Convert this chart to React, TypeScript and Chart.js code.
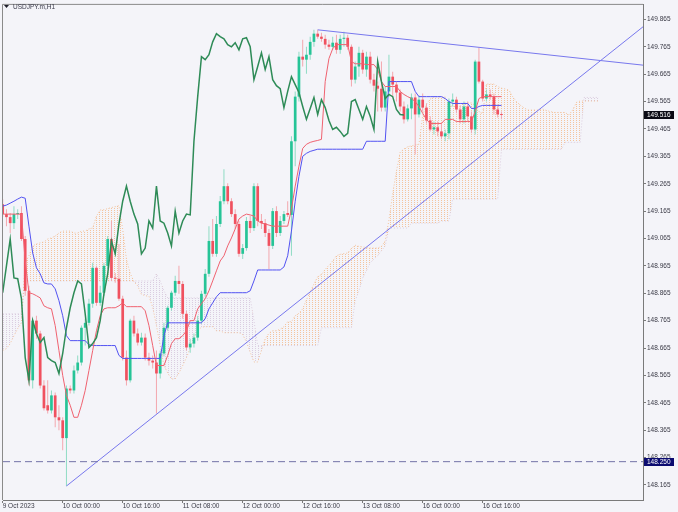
import React, { useEffect, useRef } from "react";
import { Chart, registerables } from "chart.js";

Chart.register(...registerables);

const SYMBOL = "USDJPY.m,H1";
const X_TICKS = [0, 16, 32, 48, 64, 80, 96, 112, 128];
const X_TICK_LABELS = ["9 Oct 2023", "10 Oct 00:00", "10 Oct 16:00", "11 Oct 08:00", "12 Oct 00:00", "12 Oct 16:00", "13 Oct 08:00", "16 Oct 00:00", "16 Oct 16:00"];
const Y_TICKS = [148.165, 148.265, 148.365, 148.465, 148.565, 148.665, 148.765, 148.865, 148.965, 149.065, 149.165, 149.265, 149.365, 149.465, 149.565, 149.665, 149.765, 149.865];
const X_MIN = 0.08;
const X_MAX = 170.75;
const Y_MIN = 148.11;
const Y_MAX = 149.918;
const LEVEL = 148.25;
const LAST_PRICE = 149.516;
const CHIKOU_SHIFT = 26;

const OPEN = [149.190,149.154,149.143,149.121,149.154,149.158,149.063,148.874,148.547,148.765,
148.718,148.528,148.456,148.437,148.492,148.412,148.401,148.336,148.517,148.510,
148.583,148.612,148.739,148.757,148.827,148.958,148.830,148.867,148.965,149.063,
148.921,148.918,148.845,148.630,148.547,148.765,148.718,148.685,148.703,148.630,
148.619,148.612,148.572,148.645,148.739,148.812,148.867,148.910,148.899,148.790,
148.667,148.681,148.703,148.765,148.863,148.936,149.056,149.009,149.118,149.201,
149.256,149.201,149.154,149.118,149.009,149.030,149.129,149.103,149.256,149.129,
149.121,149.085,149.038,149.165,149.085,149.129,149.158,149.151,149.420,149.583,
149.729,149.718,149.736,149.783,149.813,149.802,149.794,149.773,149.765,149.780,
149.754,149.794,149.798,149.765,149.645,149.693,149.743,149.682,149.729,149.645,
149.623,149.612,149.543,149.602,149.656,149.627,149.598,149.547,149.500,149.540,
149.580,149.518,149.572,149.543,149.496,149.463,149.471,149.456,149.438,149.449,
149.565,149.572,149.536,149.500,149.547,149.511,149.463,149.711,149.638,149.576,
149.591,149.583,149.536,149.518];
const HIGH = [149.209,149.172,149.158,149.183,149.172,149.183,149.074,148.892,148.772,148.783,
148.728,148.547,148.547,148.510,148.503,148.456,148.412,148.528,148.528,148.601,
148.638,148.747,148.772,148.845,148.976,148.965,148.892,148.976,149.074,149.129,
148.939,149.045,148.856,148.656,148.772,148.783,148.736,148.721,148.718,148.648,
148.638,148.656,148.656,148.757,148.819,148.874,148.929,148.965,148.910,148.801,
148.699,148.718,148.783,148.874,148.954,149.110,149.136,149.147,149.220,149.318,
149.267,149.212,149.172,149.129,149.045,149.143,149.147,149.267,149.267,149.154,
149.136,149.100,149.176,149.183,149.147,149.165,149.201,149.438,149.602,149.747,
149.791,149.765,149.802,149.827,149.827,149.816,149.809,149.791,149.802,149.809,
149.809,149.820,149.809,149.773,149.711,149.765,149.754,149.747,149.747,149.667,
149.638,149.711,149.620,149.736,149.674,149.638,149.609,149.565,149.554,149.594,
149.594,149.587,149.594,149.558,149.511,149.492,149.492,149.485,149.463,149.576,
149.594,149.583,149.551,149.565,149.565,149.529,149.718,149.762,149.645,149.609,
149.609,149.594,149.554,149.529];
const LOW = [149.143,149.110,149.085,149.100,149.136,149.056,148.856,148.528,148.517,148.699,
148.517,148.437,148.426,148.426,148.376,148.365,148.292,148.161,148.499,148.499,
148.572,148.601,148.674,148.747,148.812,148.819,148.819,148.856,148.954,148.910,
148.903,148.838,148.619,148.528,148.539,148.707,148.674,148.674,148.619,148.601,
148.590,148.426,148.554,148.634,148.728,148.801,148.856,148.863,148.772,148.656,
148.648,148.667,148.692,148.754,148.852,148.925,148.998,148.998,149.107,149.190,
149.190,149.143,149.100,148.998,148.990,149.020,149.085,149.092,149.110,149.100,
149.070,148.954,149.027,149.070,149.074,149.118,149.143,149.002,149.329,149.565,
149.693,149.667,149.718,149.765,149.794,149.783,149.758,149.754,149.754,149.740,
149.740,149.765,149.754,149.620,149.631,149.656,149.667,149.656,149.631,149.602,
149.529,149.529,149.529,149.583,149.583,149.565,149.529,149.485,149.492,149.500,
149.372,149.507,149.529,149.485,149.456,149.445,149.438,149.427,149.420,149.427,
149.547,149.522,149.485,149.485,149.492,149.449,149.445,149.631,149.565,149.565,
149.572,149.518,149.507,149.500];
const CLOSE = [149.154,149.143,149.121,149.154,149.158,149.063,148.874,148.547,148.765,148.718,
148.528,148.445,148.437,148.492,148.412,148.401,148.336,148.517,148.510,148.583,
148.612,148.739,148.757,148.827,148.958,148.830,148.867,148.965,149.063,148.921,
148.918,148.845,148.630,148.547,148.765,148.718,148.685,148.703,148.630,148.619,
148.612,148.572,148.645,148.739,148.812,148.867,148.910,148.899,148.790,148.667,
148.681,148.703,148.765,148.863,148.936,149.056,149.009,149.118,149.201,149.256,
149.201,149.154,149.118,149.009,149.030,149.129,149.103,149.256,149.129,149.121,
149.085,149.038,149.165,149.085,149.129,149.154,149.151,149.420,149.583,149.729,
149.718,149.736,149.783,149.813,149.802,149.794,149.773,149.765,149.780,149.754,
149.794,149.798,149.765,149.645,149.693,149.743,149.682,149.729,149.645,149.623,
149.612,149.543,149.602,149.656,149.627,149.598,149.547,149.500,149.540,149.580,
149.518,149.572,149.543,149.496,149.463,149.471,149.456,149.438,149.449,149.565,
149.572,149.536,149.500,149.547,149.511,149.463,149.711,149.638,149.576,149.591,
149.583,149.536,149.518,149.516];

const TENKAN = [149.154,149.154,149.154,149.154,149.154,149.154,148.983,148.867,148.863,148.856,
148.848,148.819,148.812,148.808,148.747,148.656,148.565,148.492,148.456,148.412,
148.412,148.456,148.510,148.583,148.656,148.728,148.783,148.808,148.812,148.812,
148.812,148.819,148.830,148.816,148.816,148.816,148.816,148.816,148.801,148.747,
148.674,148.601,148.601,148.601,148.638,148.681,148.699,148.699,148.710,148.728,
148.765,148.765,148.808,148.827,148.845,148.874,148.910,148.947,148.983,149.002,
149.038,149.067,149.100,149.136,149.147,149.154,149.151,149.147,149.129,149.121,
149.118,149.114,149.110,149.110,149.110,149.110,149.110,149.172,149.256,149.329,
149.394,149.409,149.416,149.420,149.423,149.427,149.638,149.722,149.758,149.773,
149.773,149.773,149.773,149.711,149.703,149.703,149.703,149.700,149.700,149.700,
149.682,149.638,149.620,149.620,149.620,149.620,149.602,149.591,149.583,149.576,
149.565,149.547,149.522,149.500,149.485,149.485,149.485,149.485,149.500,149.500,
149.500,149.492,149.492,149.492,149.492,149.492,149.529,149.576,149.583,149.583,
149.583,149.583,149.583,149.583];
const KIJUN = [149.183,149.187,149.194,149.201,149.209,149.216,149.212,149.110,149.012,148.958,
148.936,148.903,148.899,148.899,148.881,148.838,148.783,148.710,148.692,148.692,
148.692,148.692,148.692,148.677,148.674,148.674,148.674,148.674,148.674,148.674,
148.674,148.638,148.627,148.627,148.627,148.627,148.627,148.627,148.627,148.627,
148.627,148.627,148.627,148.710,148.757,148.757,148.757,148.757,148.757,148.757,
148.757,148.757,148.757,148.757,148.772,148.808,148.830,148.852,148.867,148.867,
148.867,148.867,148.867,148.867,148.867,148.867,148.874,148.910,148.950,148.950,
148.950,148.950,148.950,148.950,148.950,148.961,149.002,149.092,149.201,149.292,
149.365,149.376,149.383,149.387,149.391,149.391,149.391,149.391,149.391,149.391,
149.391,149.391,149.391,149.391,149.391,149.391,149.391,149.420,149.420,149.420,
149.420,149.420,149.420,149.638,149.638,149.638,149.638,149.638,149.638,149.638,
149.602,149.583,149.583,149.583,149.583,149.583,149.583,149.583,149.576,149.565,
149.558,149.558,149.558,149.558,149.558,149.540,149.540,149.547,149.551,149.551,
149.551,149.551,149.551,149.551];

// Senkou spans as displayed (already shifted 26 bars forward): bars 0..159
const SPAN_A = [148.656,148.663,148.681,148.710,148.736,148.757,148.976,149.002,149.038,149.045,
149.049,149.052,149.063,149.067,149.074,149.085,149.092,149.092,149.092,149.085,
149.085,149.092,149.092,149.100,149.103,149.147,149.169,149.170,149.174,149.178,
149.181,149.185,149.098,148.989,148.938,148.907,148.892,148.861,148.856,148.854,
148.814,148.747,148.674,148.601,148.574,148.552,148.552,148.574,148.601,148.630,
148.665,148.701,148.728,148.741,148.743,148.743,148.743,148.728,148.728,148.721,
148.721,148.721,148.721,148.721,148.714,148.687,148.650,148.614,148.614,148.656,
148.698,148.719,148.728,148.728,148.734,148.743,148.761,148.761,148.783,148.792,
148.808,148.841,148.870,148.899,148.925,148.934,148.952,148.967,148.983,149.002,
149.007,149.010,149.012,149.029,149.040,149.036,149.034,149.032,149.030,149.030,
149.030,149.036,149.056,149.132,149.229,149.311,149.380,149.392,149.400,149.403,
149.407,149.409,149.514,149.556,149.574,149.582,149.582,149.582,149.582,149.551,
149.547,149.547,149.547,149.560,149.560,149.560,149.551,149.529,149.520,149.629,
149.629,149.629,149.620,149.614,149.611,149.607,149.583,149.565,149.552,149.542,
149.534,149.534,149.534,149.534,149.538,149.532,149.529,149.525,149.525,149.525,
149.525,149.516,149.534,149.562,149.567,149.567,149.567,149.567,149.567,149.567];
const SPAN_B = [148.790,148.790,148.790,148.790,148.790,148.790,148.910,148.910,148.910,148.910,
148.910,148.910,148.910,148.910,148.910,148.910,148.910,148.910,148.910,148.910,
148.910,148.910,148.910,148.910,148.910,148.910,148.910,148.910,148.910,148.910,
148.910,148.910,148.910,148.910,148.910,148.910,148.910,148.910,148.910,148.910,
148.910,148.936,148.910,148.874,148.848,148.848,148.848,148.848,148.848,148.848,
148.848,148.848,148.848,148.848,148.848,148.848,148.848,148.848,148.848,148.848,
148.848,148.848,148.848,148.848,148.848,148.848,148.848,148.765,148.674,148.674,
148.674,148.674,148.674,148.674,148.674,148.674,148.674,148.674,148.674,148.674,
148.674,148.674,148.674,148.674,148.674,148.739,148.739,148.739,148.739,148.739,
148.739,148.739,148.739,148.739,148.838,148.874,148.921,148.947,148.976,148.990,
149.002,149.020,149.038,149.103,149.103,149.103,149.103,149.103,149.103,149.121,
149.121,149.121,149.121,149.121,149.121,149.121,149.121,149.129,149.129,149.129,
149.209,149.209,149.209,149.209,149.209,149.209,149.209,149.209,149.209,149.209,
149.209,149.209,149.209,149.391,149.391,149.391,149.391,149.391,149.391,149.391,
149.391,149.391,149.391,149.391,149.391,149.391,149.391,149.391,149.391,149.391,
149.416,149.416,149.416,149.416,149.416,149.580,149.580,149.580,149.580,149.580];

const TREND_UP = [{ x: 17, y: 148.161 }, { x: 170.75, y: 149.838 }];
const TREND_DOWN = [{ x: 84, y: 149.827 }, { x: 170.75, y: 149.698 }];

const BULL = "#26c497";
const BEAR = "#f0515f";
const BULL_WICK = "#8fdbc4";
const BEAR_WICK = "#f3a7ae";
const BG = "#f4f4f9";
const FONT = "'Liberation Sans', Arial, sans-serif";

export default function App() {
  const ref = useRef<HTMLCanvasElement>(null);
  useEffect(() => {
    document.body.style.margin = "0";
    const canvas = ref.current!;
    const ctx0 = canvas.getContext("2d")!;
    const mkPattern = (color: string) => {
      const t = document.createElement("canvas");
      t.width = 3;
      t.height = 2;
      const g = t.getContext("2d")!;
      g.fillStyle = color;
      g.fillRect(0, 0, 1, 1);
      return ctx0.createPattern(t, "repeat")!;
    };
    const orangePat = mkPattern("rgba(244,164,96,0.6)");
    const thistlePat = mkPattern("rgba(205,185,210,0.65)");

    const idx = OPEN.map((_, i) => i);
    const bodies = idx.map((i) => ({ x: i, y: [OPEN[i], CLOSE[i]] }));
    const wicks = idx.map((i) => ({ x: i, y: [LOW[i], HIGH[i]] }));
    const isBull = (i: number) => CLOSE[i] >= OPEN[i];

    const bgPlugin = {
      id: "bg",
      beforeDraw(chart: any) {
        const c = chart.ctx;
        c.save();
        c.fillStyle = BG;
        c.fillRect(0, 0, chart.width, chart.height);
        c.restore();
      },
      afterDraw(chart: any) {
        const c = chart.ctx;
        const a = chart.chartArea;
        const ys = chart.scales.y;
        c.save();
        c.strokeStyle = "#8a8a8a";
        c.lineWidth = 1;
        c.beginPath();
        c.moveTo(a.left - 0.5, a.bottom);
        c.lineTo(a.left - 0.5, a.top - 0.5);
        c.lineTo(a.right, a.top - 0.5);
        c.stroke();
        // symbol caption
        c.fillStyle = "#1e1e2a";
        c.beginPath();
        c.moveTo(4, 5);
        c.lineTo(9, 5);
        c.lineTo(6.5, 8);
        c.closePath();
        c.fill();
        c.fillStyle = "#3a3a4a";
        c.font = `6.5px ${FONT}`;
        c.textBaseline = "middle";
        c.textAlign = "left";
        c.fillText(SYMBOL, 13, 7);
        // price boxes
        const box = (v: number, fill: string) => {
          const y = ys.getPixelForValue(v);
          c.fillStyle = fill;
          c.fillRect(a.right + 1, Math.round(y) - 4, 30, 8);
          c.fillStyle = "#ffffff";
          c.font = `6.5px ${FONT}`;
          c.textBaseline = "middle";
          c.fillText(v.toFixed(3), a.right + 4, Math.round(y));
        };
        box(LEVEL, "#0b0b70");
        box(LAST_PRICE, "#0a0a14");
        c.restore();
      },
    };

    const line = (data: any[], color: string, width: number, order: number, extra: any = {}) => ({
      type: "line",
      data,
      borderColor: color,
      borderWidth: width,
      pointRadius: 0,
      tension: 0,
      fill: false,
      order,
      ...extra,
    });

    const chart = new Chart(canvas, {
      type: "line",
      data: {
        datasets: [
          {
            type: "bar",
            data: wicks,
            backgroundColor: (c: any) => (isBull(c.dataIndex) ? BULL_WICK : BEAR_WICK),
            grouped: false,
            maxBarThickness: 1,
            minBarLength: 1,
            borderWidth: 0,
            order: 9,
          },
          {
            type: "bar",
            data: bodies,
            backgroundColor: (c: any) => (isBull(c.dataIndex) ? BULL : BEAR),
            grouped: false,
            maxBarThickness: 2.8,
            minBarLength: 1,
            borderWidth: 0,
            order: 8,
          },
          line(SPAN_B.map((v, k) => ({ x: k, y: v })), "rgba(210,190,214,0.7)", 1, 21, { borderDash: [1, 2] }),
          line(SPAN_A.map((v, k) => ({ x: k, y: v })), "rgba(244,164,96,0.6)", 1, 20, {
            borderDash: [1, 2],
            fill: { target: 2, above: orangePat, below: thistlePat },
          }),
          line(TENKAN.map((v, i) => ({ x: i, y: v })), "#f06270", 1, 5),
          line(KIJUN.map((v, i) => ({ x: i, y: v })), "#5252f2", 1, 5),
          line(CLOSE.slice(CHIKOU_SHIFT).map((v, j) => ({ x: j, y: v })), "#2e8b57", 1.5, 4),
          line(TREND_UP, "#7878ee", 1, 3),
          line(TREND_DOWN, "#7878ee", 1, 3),
          line([{ x: X_MIN, y: LEVEL }, { x: X_MAX, y: LEVEL }], "#7272a8", 1, 2, { borderDash: [7, 4] }),
        ],
      } as any,
      options: {
        responsive: false,
        maintainAspectRatio: false,
        devicePixelRatio: 1,
        animation: false,
        events: [],
        layout: { padding: { left: 3, top: 3, right: 0, bottom: 0 } },
        plugins: { legend: { display: false }, tooltip: { enabled: false }, title: { display: false } },
        scales: {
          x: {
            type: "linear",
            min: X_MIN,
            max: X_MAX,
            offset: false,
            afterBuildTicks: (s: any) => {
              s.ticks = X_TICKS.map((v) => ({ value: v }));
            },
            afterFit: (s: any) => {
              s.height = 12;
            },
            grid: { display: true, drawOnChartArea: false, drawTicks: true, tickLength: 3, color: "#7a7a7a", offset: false },
            border: { display: true, color: "#7a7a7a" },
            ticks: {
              autoSkip: false,
              maxRotation: 0,
              minRotation: 0,
              align: "start",
              padding: -1,
              color: "#3a3a46",
              font: { family: FONT, size: 6.5 },
              callback: (v: any) => {
                const k = X_TICKS.indexOf(Number(v));
                return k >= 0 ? X_TICK_LABELS[k] : "";
              },
            },
          },
          y: {
            type: "linear",
            position: "right",
            min: Y_MIN,
            max: Y_MAX,
            beginAtZero: false,
            afterBuildTicks: (s: any) => {
              s.ticks = Y_TICKS.map((v) => ({ value: v }));
            },
            afterFit: (s: any) => {
              s.width = 35;
            },
            grid: { display: true, drawOnChartArea: false, drawTicks: true, tickLength: 3, color: "#7a7a7a" },
            border: { display: true, color: "#7a7a7a" },
            ticks: {
              padding: 1,
              color: "#3a3a46",
              font: { family: FONT, size: 6.5 },
              callback: (v: any) => Number(v).toFixed(3),
            },
          },
        },
      } as any,
      plugins: [bgPlugin],
    });
    return () => chart.destroy();
  }, []);
  return (
    <div style={{ width: 678, height: 512 }}>
      <canvas ref={ref} width={678} height={512} style={{ display: "block", width: 678, height: 512 }} />
    </div>
  );
}
